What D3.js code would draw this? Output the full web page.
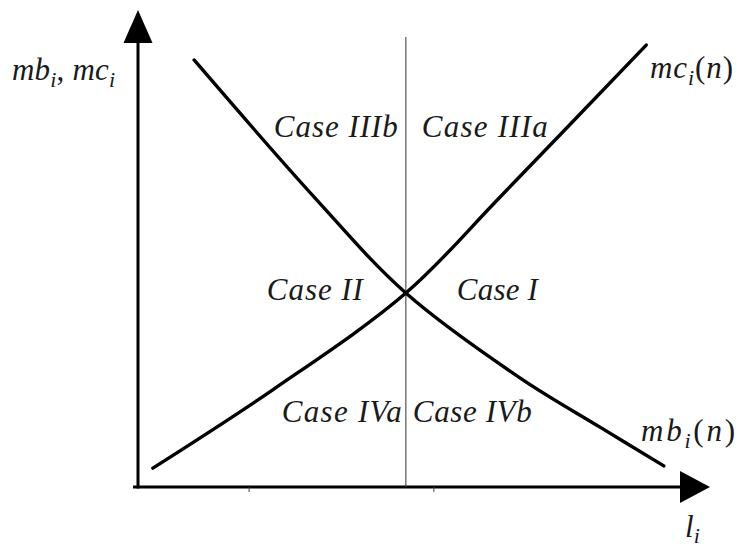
<!DOCTYPE html>
<html>
<head>
<meta charset="utf-8">
<script src="https://cdn.jsdelivr.net/npm/d3@7/dist/d3.min.js"></script>
<style>
  html, body { margin: 0; padding: 0; background: #fff; }
  svg { display: block; }
</style>
</head>
<body>
<svg id="chart" width="739" height="553"></svg>
<script>
// Marginal cost curve mc_i(n): rising, convex
const mcX = [0.27, 2.45, 4.87, 6.58, 9.24];
const mcY = [0.42, 2.16, 4.31, 6.44, 9.82];

// Marginal benefit curve mb_i(n): falling, convex
const mbX = [1.02, 3.22, 4.87, 6.95, 8.40, 9.56];
const mbY = [9.49, 6.42, 4.31, 2.42, 1.33, 0.47];

// Vertical divider through the crossing point
const dividerX = 4.87;
const dividerTop = 10;

// Small marks on the l_i axis
const xTickValues = [2.02, 5.38];

// Region names
const caseLabels = ["Case IIIb", "Case IIIa", "Case II", "Case I", "Case IVa", "Case IVb"];

const SERIF = "'Liberation Serif', 'Times New Roman', Tinos, 'DejaVu Serif', 'Noto Serif', FreeSerif, serif";

const svg = d3.select("#chart");

const x = d3.scaleLinear().domain([0, 10]).range([138, 688]);
const y = d3.scaleLinear().domain([0, 10]).range([487, 37]);

// ---- axes with solid arrowheads ----
const ax = svg.append("g").attr("stroke", "#000").attr("fill", "#000");
ax.append("line")
  .attr("x1", x(0)).attr("y1", y(0) + 1.5)
  .attr("x2", x(0)).attr("y2", 42)
  .attr("stroke-width", 3);
ax.append("path")
  .attr("d", `M${x(0)},10 L${x(0) - 14.5},43 L${x(0) + 14.5},43 Z`)
  .attr("stroke", "none");
ax.append("line")
  .attr("x1", x(0) - 5).attr("y1", y(0))
  .attr("x2", 682).attr("y2", y(0))
  .attr("stroke-width", 3);
ax.append("path")
  .attr("d", `M710,${y(0)} L680,${y(0) - 16} L680,${y(0) + 16} Z`)
  .attr("stroke", "none");

svg.append("g")
  .selectAll("line")
  .data(xTickValues)
  .join("line")
  .attr("x1", d => x(d)).attr("x2", d => x(d))
  .attr("y1", y(0)).attr("y2", y(0) + 5)
  .attr("stroke", "#444").attr("stroke-width", 1);

// ---- divider ----
svg.append("line")
  .attr("x1", x(dividerX)).attr("x2", x(dividerX))
  .attr("y1", y(0)).attr("y2", y(dividerTop))
  .attr("stroke", "#444").attr("stroke-width", 1.1);

// ---- curves ----
const line = d3.line()
  .x(d => x(d[0]))
  .y(d => y(d[1]))
  .curve(d3.curveCatmullRom.alpha(0.5));

svg.append("path")
  .datum(d3.zip(mcX, mcY))
  .attr("d", line)
  .attr("fill", "none").attr("stroke", "#000")
  .attr("stroke-width", 3.4).attr("stroke-linecap", "round");

svg.append("path")
  .datum(d3.zip(mbX, mbY))
  .attr("d", line)
  .attr("fill", "none").attr("stroke", "#000")
  .attr("stroke-width", 3.4).attr("stroke-linecap", "round");

// ---- region labels ----
const dx = x(dividerX);
const caseLayout = [
  { anchor: "end",   x: dx - 8,  y: 137, w: 124 },
  { anchor: "start", x: dx + 16, y: 137, w: 126 },
  { anchor: "end",   x: dx - 43, y: 300, w: 96 },
  { anchor: "start", x: dx + 51, y: 300, w: 81 },
  { anchor: "end",   x: dx - 4,  y: 422, w: 120 },
  { anchor: "start", x: dx + 7,  y: 422, w: 119 }
];

svg.append("g")
  .selectAll("text")
  .data(caseLabels)
  .join("text")
  .attr("x", (d, i) => caseLayout[i].x)
  .attr("y", (d, i) => caseLayout[i].y)
  .attr("text-anchor", (d, i) => caseLayout[i].anchor)
  .attr("textLength", (d, i) => caseLayout[i].w)
  .attr("lengthAdjust", "spacing")
  .attr("font-family", SERIF)
  .attr("font-style", "italic")
  .attr("font-size", 31)
  .attr("fill", "#1a1a1a")
  .text(d => d);

// ---- axis and curve names with subscripts ----
function mathLabel(parts, px, py, w, sub = 7) {
  const t = svg.append("text")
    .attr("x", px).attr("y", py)
    .attr("font-family", SERIF)
    .attr("font-size", 31)
    .attr("fill", "#1a1a1a");
  if (w) t.attr("textLength", w).attr("lengthAdjust", "spacing");
  let shift = 0;
  parts.forEach(p => {
    const s = t.append("tspan").text(p.t);
    const target = p.sub ? sub : 0;
    s.attr("dy", target - shift);
    shift = target;
    s.attr("font-style", p.up ? "normal" : "italic");
    if (p.sub) s.attr("font-size", 22);
  });
  return t;
}

mathLabel([{t: "mb"}, {t: "i", sub: true}, {t: ", ", up: true}, {t: "mc"}, {t: "i", sub: true}], 12, 80, 103);
mathLabel([{t: "mc"}, {t: "i", sub: true}, {t: "(", up: true}, {t: "n"}, {t: ")", up: true}], 650, 78, 83);
mathLabel([{t: "mb"}, {t: "i", sub: true}, {t: "(", up: true}, {t: "n"}, {t: ")", up: true}], 641, 441, 94);
mathLabel([{t: "l"}, {t: "i", sub: true}], 685, 537, null, 6);
</script>
</body>
</html>
